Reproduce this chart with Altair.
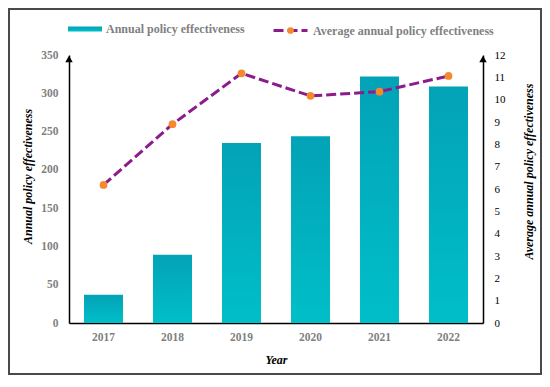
import altair as alt
import pandas as pd

# ---- data ----
years = ["2017", "2018", "2019", "2020", "2021", "2022"]
annual = [37, 89, 235, 244, 322, 309]
average = [6.18, 8.90, 11.18, 10.17, 10.36, 11.06]
left_ticks = [0, 50, 100, 150, 200, 250, 300, 350]
right_ticks = list(range(0, 13))
bar_name = "Annual policy effectiveness"
line_name = "Average annual policy effectiveness"

df = pd.DataFrame({
    "Year": years,
    "Annual": annual,
    "Average": average,
    "bar": [bar_name] * len(years),
    "line": [line_name] * len(years),
    "dot": ["dot"] * len(years),
})
one = pd.DataFrame({"k": [0]})

W, H = 414, 268
SERIF = "Liberation Serif"
GRAY = "#7f7f7f"
PURPLE = "#8c1c8c"
ORANGE = "#f58a2c"
TEAL = "#0ab3c3"

x_enc = alt.X(
    "Year:N",
    scale=alt.Scale(paddingInner=0.435, paddingOuter=0.2175),
    axis=alt.Axis(
        title="Year", labelAngle=0, labelColor=GRAY, labelFontWeight="bold",
        labelFontSize=11.5, labelPadding=8, titlePadding=12, titleFontSize=12,
        labelOverlap=False,
    ),
)

grad = alt.Gradient(
    gradient="linear",
    stops=[alt.GradientStop(color="#03a2b7", offset=0),
           alt.GradientStop(color="#00bfc8", offset=1)],
    x1=0, x2=0, y1=0, y2=1,
)

left_axis = alt.Axis(
    orient="left", values=left_ticks, title="Annual policy effectiveness",
    labelColor=GRAY, labelFontWeight="bold", labelFontSize=11.5,
    labelPadding=11, titlePadding=6, titleFontSize=12, titleY=121,
    labelOverlap=False,
)

right_axis = alt.Axis(
    orient="right", values=right_ticks, title=line_name,
    labelColor="black", labelFontWeight="normal", labelFontSize=11,
    labelPadding=11, titlePadding=18, titleFontSize=12,
    titleAngle=270, titleBaseline="top", titleY=116,
    labelOverlap=False,
)

bars = alt.Chart(df).mark_bar(color=grad).encode(
    x=x_enc,
    y=alt.Y("Annual:Q", scale=alt.Scale(domain=[0, 350], nice=False), axis=left_axis),
    opacity=alt.Opacity(
        "bar:N",
        scale=alt.Scale(domain=[bar_name], range=[1]),
        legend=alt.Legend(
            title=None, orient="none", legendX=-1, legendY=-43,
            symbolType="M-1,-0.15H1V0.15H-1Z", symbolSize=1156,
            symbolFillColor=TEAL, symbolStrokeWidth=0, symbolOpacity=1,
        ),
    ),
)

left_arrow = alt.Chart(one).mark_point(
    shape="triangle-up", filled=True, color="black", size=55, yOffset=4, opacity=1
).encode(x=alt.value(0), y=alt.Y(datum=350, axis=left_axis))

frame = alt.Chart(one).mark_rect(
    fillOpacity=0, stroke="#4a4a4a", strokeWidth=2
).encode(
    x=alt.value(-60), x2=alt.value(W + 58),
    y=alt.value(-46), y2=alt.value(H + 51),
)

line = alt.Chart(df).mark_line(color=PURPLE, strokeWidth=3).encode(
    x=alt.X("Year:N"),
    y=alt.Y("Average:Q", scale=alt.Scale(domain=[0, 12], nice=False), axis=right_axis),
    strokeDash=alt.StrokeDash(
        "line:N",
        scale=alt.Scale(domain=[line_name], range=[[10, 4]]),
        legend=alt.Legend(
            title=None, orient="none", legendX=203, legendY=-43,
            symbolType="M-1,0H1", symbolSize=1156, symbolStrokeColor=PURPLE,
            symbolStrokeWidth=3, symbolDash=[9, 3],
        ),
    ),
)

points = alt.Chart(df).mark_point(
    filled=True, color=ORANGE, size=60, opacity=1
).encode(
    x=alt.X("Year:N"),
    y=alt.Y("Average:Q", axis=right_axis),
    shape=alt.Shape(
        "dot:N",
        scale=alt.Scale(domain=["dot"], range=["circle"]),
        legend=alt.Legend(
            title=None, orient="none", legendX=216.5, legendY=-29.5,
            symbolSize=45, symbolFillColor=ORANGE, symbolStrokeWidth=0,
            labelExpr="''", labelFontSize=0, symbolOpacity=1,
        ),
    ),
)

right_arrow = alt.Chart(one).mark_point(
    shape="triangle-up", filled=True, color="black", size=55, yOffset=4, opacity=1
).encode(x=alt.value(W), y=alt.Y(datum=12, axis=right_axis))

left_group = alt.layer(frame, bars, left_arrow)
right_group = alt.layer(line, points, right_arrow)

chart = (
    alt.layer(left_group, right_group)
    .resolve_scale(y="independent")
    .properties(
        width=W, height=H, autosize="none",
        padding={"left": 61, "top": 47, "right": 59, "bottom": 52},
    )
    .configure_view(strokeWidth=0)
    .configure_axis(
        domainColor="black", domainWidth=1.5, ticks=False, grid=False,
        labelFont=SERIF, titleFont=SERIF, titleFontStyle="italic",
        titleFontWeight="bold", titleColor="black", labelOverlap=False,
    )
    .configure_legend(
        labelFont=SERIF, labelFontSize=12, labelFontWeight="bold",
        labelColor=GRAY, padding=0, labelOffset=4, labelLimit=400,
    )
)

chart.save("out.html", embed_options={"renderer": "svg", "actions": False})
